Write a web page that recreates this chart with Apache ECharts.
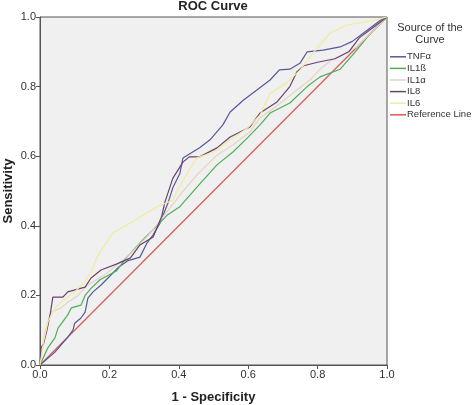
<!DOCTYPE html>
<html>
<head>
<meta charset="utf-8">
<script src="https://cdn.jsdelivr.net/npm/echarts@6/dist/echarts.min.js"></script>
<style>html,body{margin:0;padding:0;background:#fff}#c{width:472px;height:405px}</style>
</head>
<body>
<div id="c"></div>
<script>
const xTicks = [0, 0.2, 0.4, 0.6, 0.8, 1.0];
const seriesNames = ['TNFα', 'IL1ß', 'IL1α', 'IL8', 'IL6', 'Reference Line'];

const tnfa = [[0,0],[0.043,0.037],[0.08,0.08],[0.095,0.10],[0.10,0.12],[0.118,0.135],[0.13,0.152],[0.138,0.192],[0.153,0.21],[0.176,0.23],[0.196,0.25],[0.225,0.28],[0.254,0.30],[0.288,0.31],[0.308,0.35],[0.326,0.374],[0.346,0.408],[0.369,0.466],[0.383,0.51],[0.403,0.55],[0.412,0.595],[0.46,0.624],[0.49,0.647],[0.527,0.69],[0.548,0.727],[0.585,0.76],[0.625,0.79],[0.663,0.819],[0.69,0.848],[0.72,0.85],[0.75,0.868],[0.77,0.90],[0.816,0.905],[0.865,0.914],[0.90,0.93],[0.94,0.96],[0.98,0.99],[1,1]];
const il1b = [[0,0],[0.023,0.05],[0.043,0.078],[0.052,0.106],[0.08,0.144],[0.09,0.164],[0.118,0.172],[0.13,0.20],[0.147,0.22],[0.173,0.245],[0.22,0.27],[0.25,0.31],[0.297,0.36],[0.337,0.40],[0.366,0.43],[0.403,0.455],[0.46,0.52],[0.51,0.575],[0.556,0.612],[0.60,0.655],[0.634,0.69],[0.663,0.724],[0.72,0.753],[0.77,0.80],[0.807,0.828],[0.865,0.85],[0.90,0.89],[0.95,0.95],[1,1]];
const il1a = [[0,0],[0.005,0.04],[0.014,0.095],[0.032,0.152],[0.06,0.164],[0.08,0.18],[0.11,0.20],[0.138,0.23],[0.187,0.26],[0.233,0.296],[0.27,0.33],[0.31,0.37],[0.35,0.42],[0.403,0.488],[0.452,0.546],[0.51,0.603],[0.556,0.632],[0.605,0.67],[0.634,0.71],[0.683,0.745],[0.74,0.79],[0.778,0.819],[0.807,0.85],[0.836,0.873],[0.913,0.914],[0.96,0.96],[1,1]];
const il8 = [[0,0],[0.003,0.05],[0.01,0.06],[0.02,0.10],[0.03,0.15],[0.037,0.195],[0.066,0.195],[0.08,0.21],[0.13,0.224],[0.147,0.25],[0.176,0.273],[0.22,0.29],[0.26,0.307],[0.288,0.345],[0.326,0.368],[0.35,0.425],[0.36,0.468],[0.383,0.537],[0.412,0.583],[0.43,0.598],[0.46,0.598],[0.51,0.624],[0.548,0.655],[0.605,0.684],[0.634,0.724],[0.683,0.756],[0.72,0.80],[0.74,0.842],[0.76,0.86],[0.80,0.87],[0.85,0.88],[0.89,0.90],[0.92,0.94],[0.96,0.97],[1,1]];
const il6 = [[0,0],[0.005,0.03],[0.01,0.066],[0.023,0.124],[0.043,0.164],[0.072,0.19],[0.10,0.21],[0.13,0.24],[0.147,0.267],[0.164,0.31],[0.21,0.38],[0.26,0.408],[0.288,0.425],[0.337,0.454],[0.383,0.474],[0.40,0.51],[0.43,0.56],[0.452,0.595],[0.50,0.612],[0.556,0.652],[0.597,0.68],[0.634,0.718],[0.663,0.78],[0.71,0.81],[0.75,0.848],[0.787,0.897],[0.836,0.954],[0.885,0.977],[0.96,0.99],[1,1]];
const refLine = [[0,0],[1,1]];

const colors = ['#55599a', '#4eae5a', '#e6d3c6', '#6a4270', '#f1ec9c', '#d65a58'];
const datasets = [tnfa, il1b, il1a, il8, il6, refLine];

const chart = echarts.init(document.getElementById('c'));
const font = '"Liberation Sans", Arial, sans-serif';
chart.setOption({
  animation: false,
  backgroundColor: '#ffffff',
  grid: { left: 40, top: 17, width: 347, height: 348, outerBoundsMode: 'none', containLabel: false, show: true, backgroundColor: '#f0f0f0', borderColor: '#555', borderWidth: 1 },
  xAxis: {
    type: 'value', min: 0, max: 1, interval: 0.2,
    axisLine: { show: true, lineStyle: { color: '#555' } },
    axisTick: { show: true, length: 4, lineStyle: { color: '#555' } },
    splitLine: { show: false },
    axisLabel: { color: '#333', fontSize: 11, fontFamily: font, margin: 4, formatter: v => v.toFixed(1) },
    name: '1 - Specificity', nameLocation: 'middle', nameGap: 26,
    nameTextStyle: { fontWeight: 'bold', fontSize: 13, color: '#222', fontFamily: font }
  },
  yAxis: {
    type: 'value', min: 0, max: 1, interval: 0.2,
    axisLine: { show: true, lineStyle: { color: '#555' } },
    axisTick: { show: true, length: 4, lineStyle: { color: '#555' } },
    splitLine: { show: false },
    axisLabel: { color: '#333', fontSize: 11, fontFamily: font, margin: 4, formatter: v => v.toFixed(1) }
  },
  legend: {
    orient: 'vertical', left: 390, top: 51, width: 82, padding: 0,
    icon: 'rect', itemWidth: 16, itemHeight: 1.5, itemGap: 0,
    textStyle: { fontSize: 9.5, fontFamily: font, color: '#333', lineHeight: 11.6, overflow: 'none', padding: [0,0,0,-4] },
    data: seriesNames.map((n, i) => ({ name: n, itemStyle: { color: colors[i] } }))
  },
  graphic: [
    { type: 'text', x: 213, y: 0, style: { text: 'ROC Curve', font: 'bold 13px ' + font, fill: '#222', align: 'center' } },
    { type: 'text', x: 430, y: 22, style: { text: 'Source of the\nCurve', font: '11px ' + font, fill: '#333', align: 'center', lineHeight: 12 } },
    { type: 'text', x: 8, y: 191, rotation: Math.PI / 2, style: { text: 'Sensitivity', font: 'bold 13px ' + font, fill: '#222', align: 'center', verticalAlign: 'middle' } }
  ],
  series: datasets.map((d, i) => ({
    name: seriesNames[i], type: 'line', data: d, showSymbol: false, symbol: 'none',
    lineStyle: { color: colors[i], width: 1.2 }, itemStyle: { color: colors[i] },
    z: i === 5 ? 1 : 2 + i
  }))
});
</script>
</body>
</html>
